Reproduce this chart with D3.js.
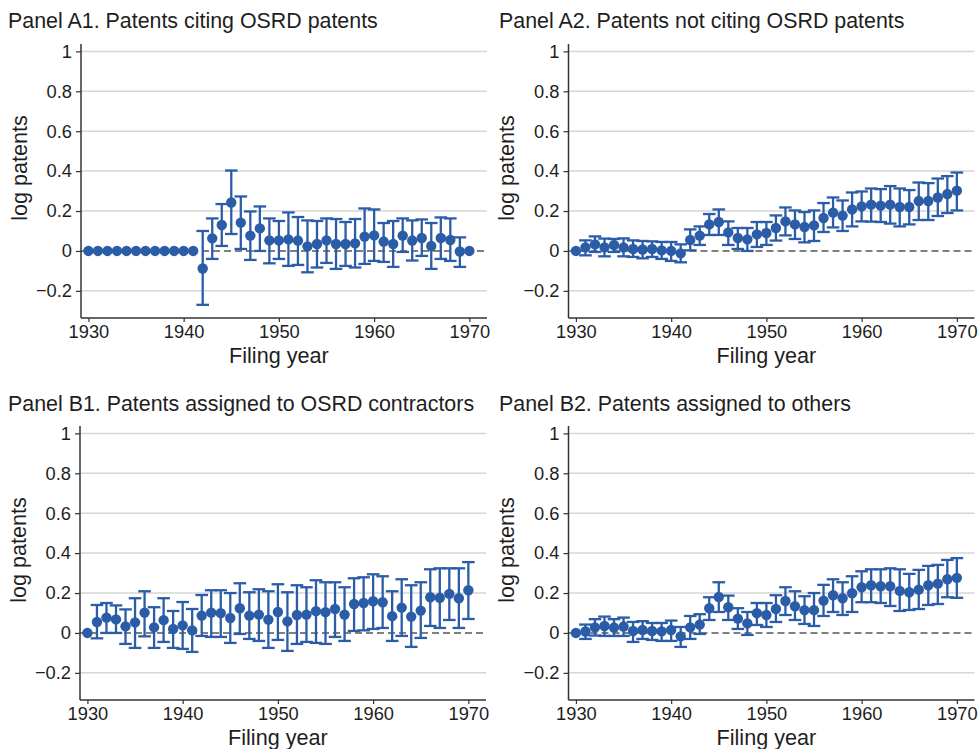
<!DOCTYPE html>
<html>
<head>
<meta charset="utf-8">
<script src="https://cdn.jsdelivr.net/npm/d3@7"></script>
<style>
  html, body { margin: 0; padding: 0; background: #fff; }
  svg { display: block; font-family: "Liberation Sans", Arial, Helvetica, sans-serif; }
</style>
</head>
<body>
<svg id="chart" width="978" height="749"></svg>
<script>
// ---------- DATA ----------
const years = d3.range(1930, 1971);
const yTicks = [-0.2, 0, 0.2, 0.4, 0.6, 0.8, 1];
const xTicks = [1930, 1940, 1950, 1960, 1970];

const titles = [
  "Panel A1. Patents citing OSRD patents",
  "Panel A2. Patents not citing OSRD patents",
  "Panel B1. Patents assigned to OSRD contractors",
  "Panel B2. Patents assigned to others"
];

// Panel A1
const a1Est = [0,0,0,0,0,0,0,0,0,0,0,0,
  -0.088,0.063,0.13,0.243,0.142,0.077,0.113,0.053,0.053,0.058,0.052,0.023,0.035,0.053,0.035,0.035,0.038,0.072,0.078,0.047,0.035,0.077,0.052,0.065,0.025,0.065,0.055,-0.003,0];
const a1Hi = [null,null,null,null,null,null,null,null,null,null,null,null,
  0.10,0.163,0.235,0.403,0.273,0.198,0.223,0.163,0.15,0.193,0.17,0.153,0.15,0.163,0.16,0.145,0.16,0.213,0.208,0.14,0.15,0.163,0.153,0.158,0.14,0.168,0.163,0.068,null];
const a1Lo = [null,null,null,null,null,null,null,null,null,null,null,null,
  -0.27,-0.04,0.025,0.085,0.01,-0.045,0.0,-0.062,-0.04,-0.075,-0.07,-0.107,-0.083,-0.06,-0.09,-0.075,-0.083,-0.065,-0.05,-0.055,-0.08,-0.005,-0.048,-0.025,-0.09,-0.04,-0.05,-0.08,null];

// Panel A2
const a2Est = [0,0.018,0.033,0.018,0.03,0.018,0.01,0.007,0.01,0.003,0.0,-0.012,
  0.055,0.077,0.133,0.145,0.093,0.065,0.058,0.083,0.09,0.115,0.148,0.133,0.12,0.128,0.165,0.192,0.177,0.208,0.223,0.232,0.227,0.232,0.22,0.22,0.25,0.25,0.268,0.285,0.302];
const a2Hi = [null,0.053,0.073,0.062,0.06,0.063,0.053,0.05,0.048,0.045,0.045,0.033,
  0.108,0.123,0.185,0.208,0.148,0.115,0.115,0.145,0.145,0.178,0.218,0.203,0.195,0.203,0.24,0.268,0.253,0.293,0.298,0.313,0.31,0.325,0.313,0.305,0.343,0.34,0.363,0.375,0.393];
const a2Lo = [null,-0.022,-0.005,-0.027,-0.005,-0.027,-0.03,-0.037,-0.03,-0.04,-0.05,-0.057,
  0.003,0.03,0.08,0.08,0.03,0.01,0.0,0.02,0.03,0.052,0.078,0.06,0.043,0.05,0.095,0.118,0.1,0.123,0.148,0.147,0.145,0.137,0.123,0.133,0.155,0.155,0.175,0.19,0.203];

// Panel B1
const b1Est = [0,0.055,0.077,0.068,0.033,0.053,0.102,0.028,0.064,0.02,0.038,0.013,
  0.087,0.102,0.099,0.075,0.124,0.087,0.092,0.067,0.105,0.058,0.09,0.092,0.109,0.104,0.12,0.092,0.145,0.15,0.159,0.154,0.084,0.127,0.082,0.112,0.179,0.176,0.196,0.174,0.214];
const b1Hi = [null,0.14,0.15,0.138,0.118,0.174,0.209,0.129,0.174,0.11,0.155,0.12,
  0.19,0.214,0.214,0.2,0.249,0.204,0.219,0.209,0.244,0.204,0.239,0.229,0.264,0.254,0.254,0.229,0.274,0.279,0.294,0.284,0.209,0.269,0.239,0.254,0.319,0.324,0.324,0.324,0.355];
const b1Lo = [null,-0.027,0.0,0.0,-0.055,-0.075,-0.017,-0.075,-0.045,-0.075,-0.08,-0.095,
  -0.015,-0.02,-0.02,-0.05,-0.005,-0.03,-0.04,-0.075,-0.035,-0.09,-0.055,-0.045,-0.05,-0.055,-0.02,-0.04,0.01,0.013,0.02,0.025,-0.04,-0.015,-0.07,-0.025,0.035,0.025,0.065,0.025,0.07];

// Panel B2
const b2Est = [0,0.007,0.028,0.035,0.027,0.032,0.01,0.015,0.01,0.008,0.015,-0.017,
  0.028,0.042,0.124,0.18,0.129,0.072,0.048,0.099,0.09,0.12,0.16,0.134,0.114,0.114,0.162,0.189,0.174,0.199,0.229,0.239,0.234,0.234,0.211,0.204,0.217,0.239,0.247,0.269,0.276];
const b2Hi = [null,0.042,0.069,0.082,0.069,0.077,0.055,0.059,0.05,0.05,0.062,0.03,
  0.085,0.094,0.179,0.254,0.187,0.124,0.105,0.15,0.15,0.189,0.229,0.209,0.184,0.2,0.241,0.269,0.254,0.284,0.309,0.319,0.319,0.324,0.319,0.296,0.316,0.336,0.341,0.366,0.375];
const b2Lo = [null,-0.03,-0.013,-0.015,-0.015,-0.015,-0.045,-0.03,-0.035,-0.04,-0.04,-0.07,
  -0.03,-0.005,0.065,0.105,0.065,0.02,-0.01,0.04,0.03,0.055,0.09,0.065,0.045,0.035,0.085,0.105,0.09,0.105,0.154,0.154,0.15,0.135,0.11,0.115,0.12,0.14,0.145,0.179,0.176];

const seriesEst = [a1Est, a2Est, b1Est, b2Est];
const seriesLo = [a1Lo, a2Lo, b1Lo, b2Lo];
const seriesHi = [a1Hi, a2Hi, b1Hi, b2Hi];

// ---------- LAYOUT ----------
const svg = d3.select("#chart");
const blue = "#2b5ca8";
const txt = "#1e1e1e";
const tickFont = 18.3;

const panelPos = [
  { ax: 81,    top: 44,  bottom: 318, titleX: 8,   titleY: 28 },
  { ax: 568.5, top: 44,  bottom: 318, titleX: 499, titleY: 28 },
  { ax: 80,    top: 426, bottom: 700, titleX: 8,   titleY: 411 },
  { ax: 568.5, top: 426, bottom: 700, titleX: 499, titleY: 411 }
];

panelPos.forEach((p, i) => {
  const g = svg.append("g");
  const x = d3.scaleLinear().domain([1929.22, 1971.8]).range([p.ax, p.ax + 405.5]);
  const y = d3.scaleLinear().domain([-0.336, 1.037]).range([p.bottom, p.top]);
  const right = p.ax + 406;

  // title
  g.append("text").attr("x", p.titleX).attr("y", p.titleY)
    .attr("font-size", 21.4).attr("fill", txt).text(titles[i]);

  // gridlines
  g.selectAll(".grid").data(yTicks.filter(t => t !== 0)).enter().append("line")
    .attr("x1", p.ax).attr("x2", right)
    .attr("y1", d => y(d)).attr("y2", d => y(d))
    .attr("stroke", "#d6d6d6").attr("stroke-width", 1.5);

  // zero dashed line
  g.append("line").attr("x1", p.ax).attr("x2", right)
    .attr("y1", y(0)).attr("y2", y(0))
    .attr("stroke", "#555").attr("stroke-width", 1.5).attr("stroke-dasharray", "7,4");

  // y axis
  const yAxis = d3.axisLeft(y).tickValues(yTicks).tickSize(5).tickPadding(4)
    .tickFormat(d => d === 1 ? "1" : d === 0 ? "0" : d3.format(".1f")(d).replace("-", "\u2212"));
  const ya = g.append("g").attr("transform", `translate(${p.ax},0)`).call(yAxis);
  ya.select(".domain").attr("stroke", "#333").attr("stroke-width", 1.5)
    .attr("d", `M0,${p.top}V${p.bottom}`);
  ya.selectAll(".tick line").attr("stroke", "#333").attr("stroke-width", 1.2);
  ya.selectAll(".tick text").attr("font-size", tickFont).attr("fill", txt)
    .attr("font-family", "Liberation Sans, Arial, sans-serif");

  // x axis
  const xAxis = d3.axisBottom(x).tickValues(xTicks).tickSize(4).tickPadding(3).tickFormat(d3.format("d"));
  const xa = g.append("g").attr("transform", `translate(0,${p.bottom})`).call(xAxis);
  xa.select(".domain").attr("stroke", "#333").attr("stroke-width", 1.5)
    .attr("d", `M${p.ax},0H${right}`);
  xa.selectAll(".tick line").attr("stroke", "#333").attr("stroke-width", 1.2);
  xa.selectAll(".tick text").attr("font-size", tickFont).attr("fill", txt)
    .attr("font-family", "Liberation Sans, Arial, sans-serif");

  // axis titles
  g.append("text").attr("transform", `translate(${p.ax - 62},${(p.top + p.bottom) / 2 - 13}) rotate(-90)`)
    .attr("text-anchor", "middle").attr("dominant-baseline", "central")
    .attr("font-size", 21.6).attr("fill", txt).text("log patents");
  g.append("text").attr("x", x(1950)).attr("y", p.bottom + 45)
    .attr("text-anchor", "middle").attr("font-size", 21.6).attr("fill", txt).text("Filing year");

  // data
  const data = years.map((yr, j) => ({ yr, est: seriesEst[i][j], lo: seriesLo[i][j], hi: seriesHi[i][j] }));
  const withCI = data.filter(d => d.lo !== null && d.hi !== null);
  const cap = 6.3;
  g.selectAll(".ci").data(withCI).enter().append("line")
    .attr("x1", d => x(d.yr)).attr("x2", d => x(d.yr))
    .attr("y1", d => y(d.lo)).attr("y2", d => y(d.hi))
    .attr("stroke", blue).attr("stroke-width", 2.3);
  g.selectAll(".capHi").data(withCI).enter().append("line")
    .attr("x1", d => x(d.yr) - cap).attr("x2", d => x(d.yr) + cap)
    .attr("y1", d => y(d.hi)).attr("y2", d => y(d.hi))
    .attr("stroke", blue).attr("stroke-width", 2.3);
  g.selectAll(".capLo").data(withCI).enter().append("line")
    .attr("x1", d => x(d.yr) - cap).attr("x2", d => x(d.yr) + cap)
    .attr("y1", d => y(d.lo)).attr("y2", d => y(d.lo))
    .attr("stroke", blue).attr("stroke-width", 2.3);
  g.selectAll(".pt").data(data).enter().append("circle")
    .attr("cx", d => x(d.yr)).attr("cy", d => y(d.est)).attr("r", 5.2)
    .attr("fill", blue);
});
</script>
</body>
</html>
